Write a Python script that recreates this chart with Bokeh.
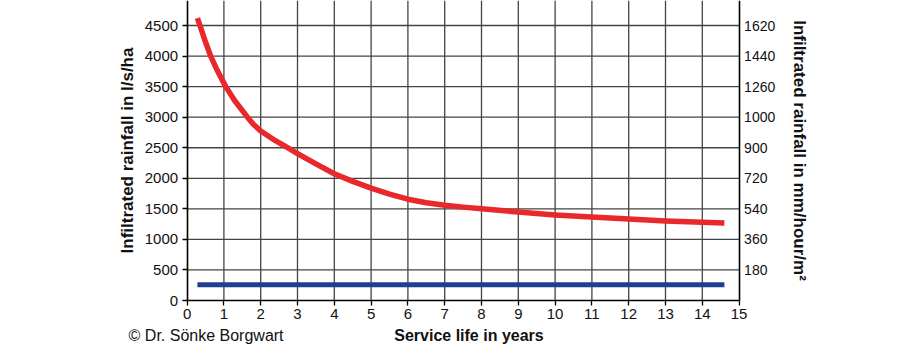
from bokeh.plotting import figure
from bokeh.models import Range1d, LinearAxis, FixedTicker, Label
from bokeh.embed import file_html
from bokeh.resources import INLINE

# data
years = [0.28, 0.36, 0.5, 0.64, 0.8, 1.05, 1.3, 1.64, 1.8, 2, 2.4, 2.73, 3, 3.5, 4, 4.5, 5, 5.5, 6,
         6.5, 7, 7.5, 8, 9, 10, 11, 12, 13, 14, 14.6]
red_lsha = [4620, 4480, 4230, 4000, 3790, 3500, 3265, 3000, 2885, 2775, 2615, 2500, 2405, 2235, 2075,
            1950, 1840, 1740, 1658, 1600, 1560, 1528, 1500, 1447, 1400, 1366, 1335, 1302, 1282, 1270]
blue_years = [0.28, 14.6]
blue_lsha = [258, 258]
left_ticks = [0, 500, 1000, 1500, 2000, 2500, 3000, 3500, 4000, 4500]
x_ticks = list(range(0, 16))
right_ticks = [180, 360, 540, 720, 900, 1080, 1260, 1440, 1620]
right_labels = ["180", "360", "540", "720", "900", "1000", "1260", "1440", "1620"]
x_title = "Service life in years"
left_title = "Infiltrated rainfall in l/s/ha"
right_title = "Infiltrated rainfall in mm/hour/m²"
credit = "© Dr. Sönke Borgwart"

FONT = "Liberation Sans"
W, H = 904, 344
PX_X = 36.8       # px per year
PX_Y = 0.06111    # px per l/s/ha
Y0_PX = 300.0     # pixel row of the x axis
XMIN, XMAX = 0, 15
YMIN, YMAX = 0, Y0_PX / PX_Y
# whole canvas is the frame; axes sit at fixed data locations inside it
x_lo = -186.6 / PX_X
x_hi = x_lo + W / PX_X
y_lo = -(H - Y0_PX) / PX_Y

p = figure(width=W, height=H, output_backend="svg", toolbar_location=None,
           x_range=Range1d(x_lo, x_hi), y_range=Range1d(y_lo, YMAX),
           x_axis_location=None, y_axis_location=None,
           min_border=0, min_border_left=0, min_border_right=0,
           min_border_top=0, min_border_bottom=0)
p.outline_line_color = None
p.background_fill_color = "white"
p.xgrid.visible = False
p.ygrid.visible = False

p.extra_y_ranges = {"mm": Range1d(y_lo * 0.36, YMAX * 0.36)}

# grid lines from the tick arrays
vx = [t for t in x_ticks if XMIN < t < XMAX]
p.segment(x0=vx, y0=[YMIN] * len(vx), x1=vx, y1=[YMAX] * len(vx),
          line_color="#444444", line_width=1.3)
hy = [t for t in left_ticks if t > YMIN]
p.segment(x0=[XMIN] * len(hy), y0=hy, x1=[XMAX] * len(hy), y1=hy,
          line_color="#444444", line_width=1.3)

def style(ax, size="15px"):
    ax.axis_line_color = "black"
    ax.axis_line_width = 1.6
    ax.major_tick_line_color = "black"
    ax.major_tick_line_width = 1.3
    ax.minor_tick_line_color = None
    ax.major_tick_in = 0
    ax.major_tick_out = 5
    ax.major_label_text_font = FONT
    ax.major_label_text_font_size = size
    ax.major_label_text_color = "#111111"
    ax.axis_label_text_font = FONT
    ax.axis_label_text_font_size = "17px"
    ax.axis_label_text_font_style = "bold"
    ax.axis_label_text_color = "#111111"

xa = LinearAxis(fixed_location=YMIN, bounds=(XMIN, XMAX), ticker=FixedTicker(ticks=x_ticks))
style(xa)
xa.major_label_standoff = 3
p.add_layout(xa, "below")

ya = LinearAxis(fixed_location=XMIN, bounds=(YMIN, YMAX), ticker=FixedTicker(ticks=left_ticks))
style(ya)
ya.axis_label = left_title
ya.major_label_standoff = 4
ya.axis_label_standoff = 5
p.add_layout(ya, "left")

ra = LinearAxis(y_range_name="mm", fixed_location=XMAX, bounds=(YMIN * 0.36, YMAX * 0.36),
                ticker=FixedTicker(ticks=right_ticks))
style(ra, "14px")
ra.major_label_overrides = {t: l for t, l in zip(right_ticks, right_labels)}
ra.major_tick_out = 0
ra.major_label_standoff = 5
ra.axis_label = right_title
ra.axis_label_standoff = 11
ra.axis_label_orientation = "vertical"
p.add_layout(ra, "right")

p.line(years, red_lsha, line_color="#e8282a", line_width=5.5, line_cap="butt", line_join="round")
p.line(blue_years, blue_lsha, line_color="#1f3d92", line_width=5, line_cap="butt")

p.add_layout(Label(x=-1.59, y=-35 / PX_Y, text=credit,
                   text_font=FONT, text_font_size="16px", text_color="#111111",
                   text_baseline="middle"))
p.add_layout(Label(x=7.66, y=-35 / PX_Y, text=x_title,
                   text_font=FONT, text_font_size="16px", text_font_style="bold",
                   text_color="#111111", text_baseline="middle", text_align="center"))

open("out.html", "w").write(file_html(p, INLINE))
